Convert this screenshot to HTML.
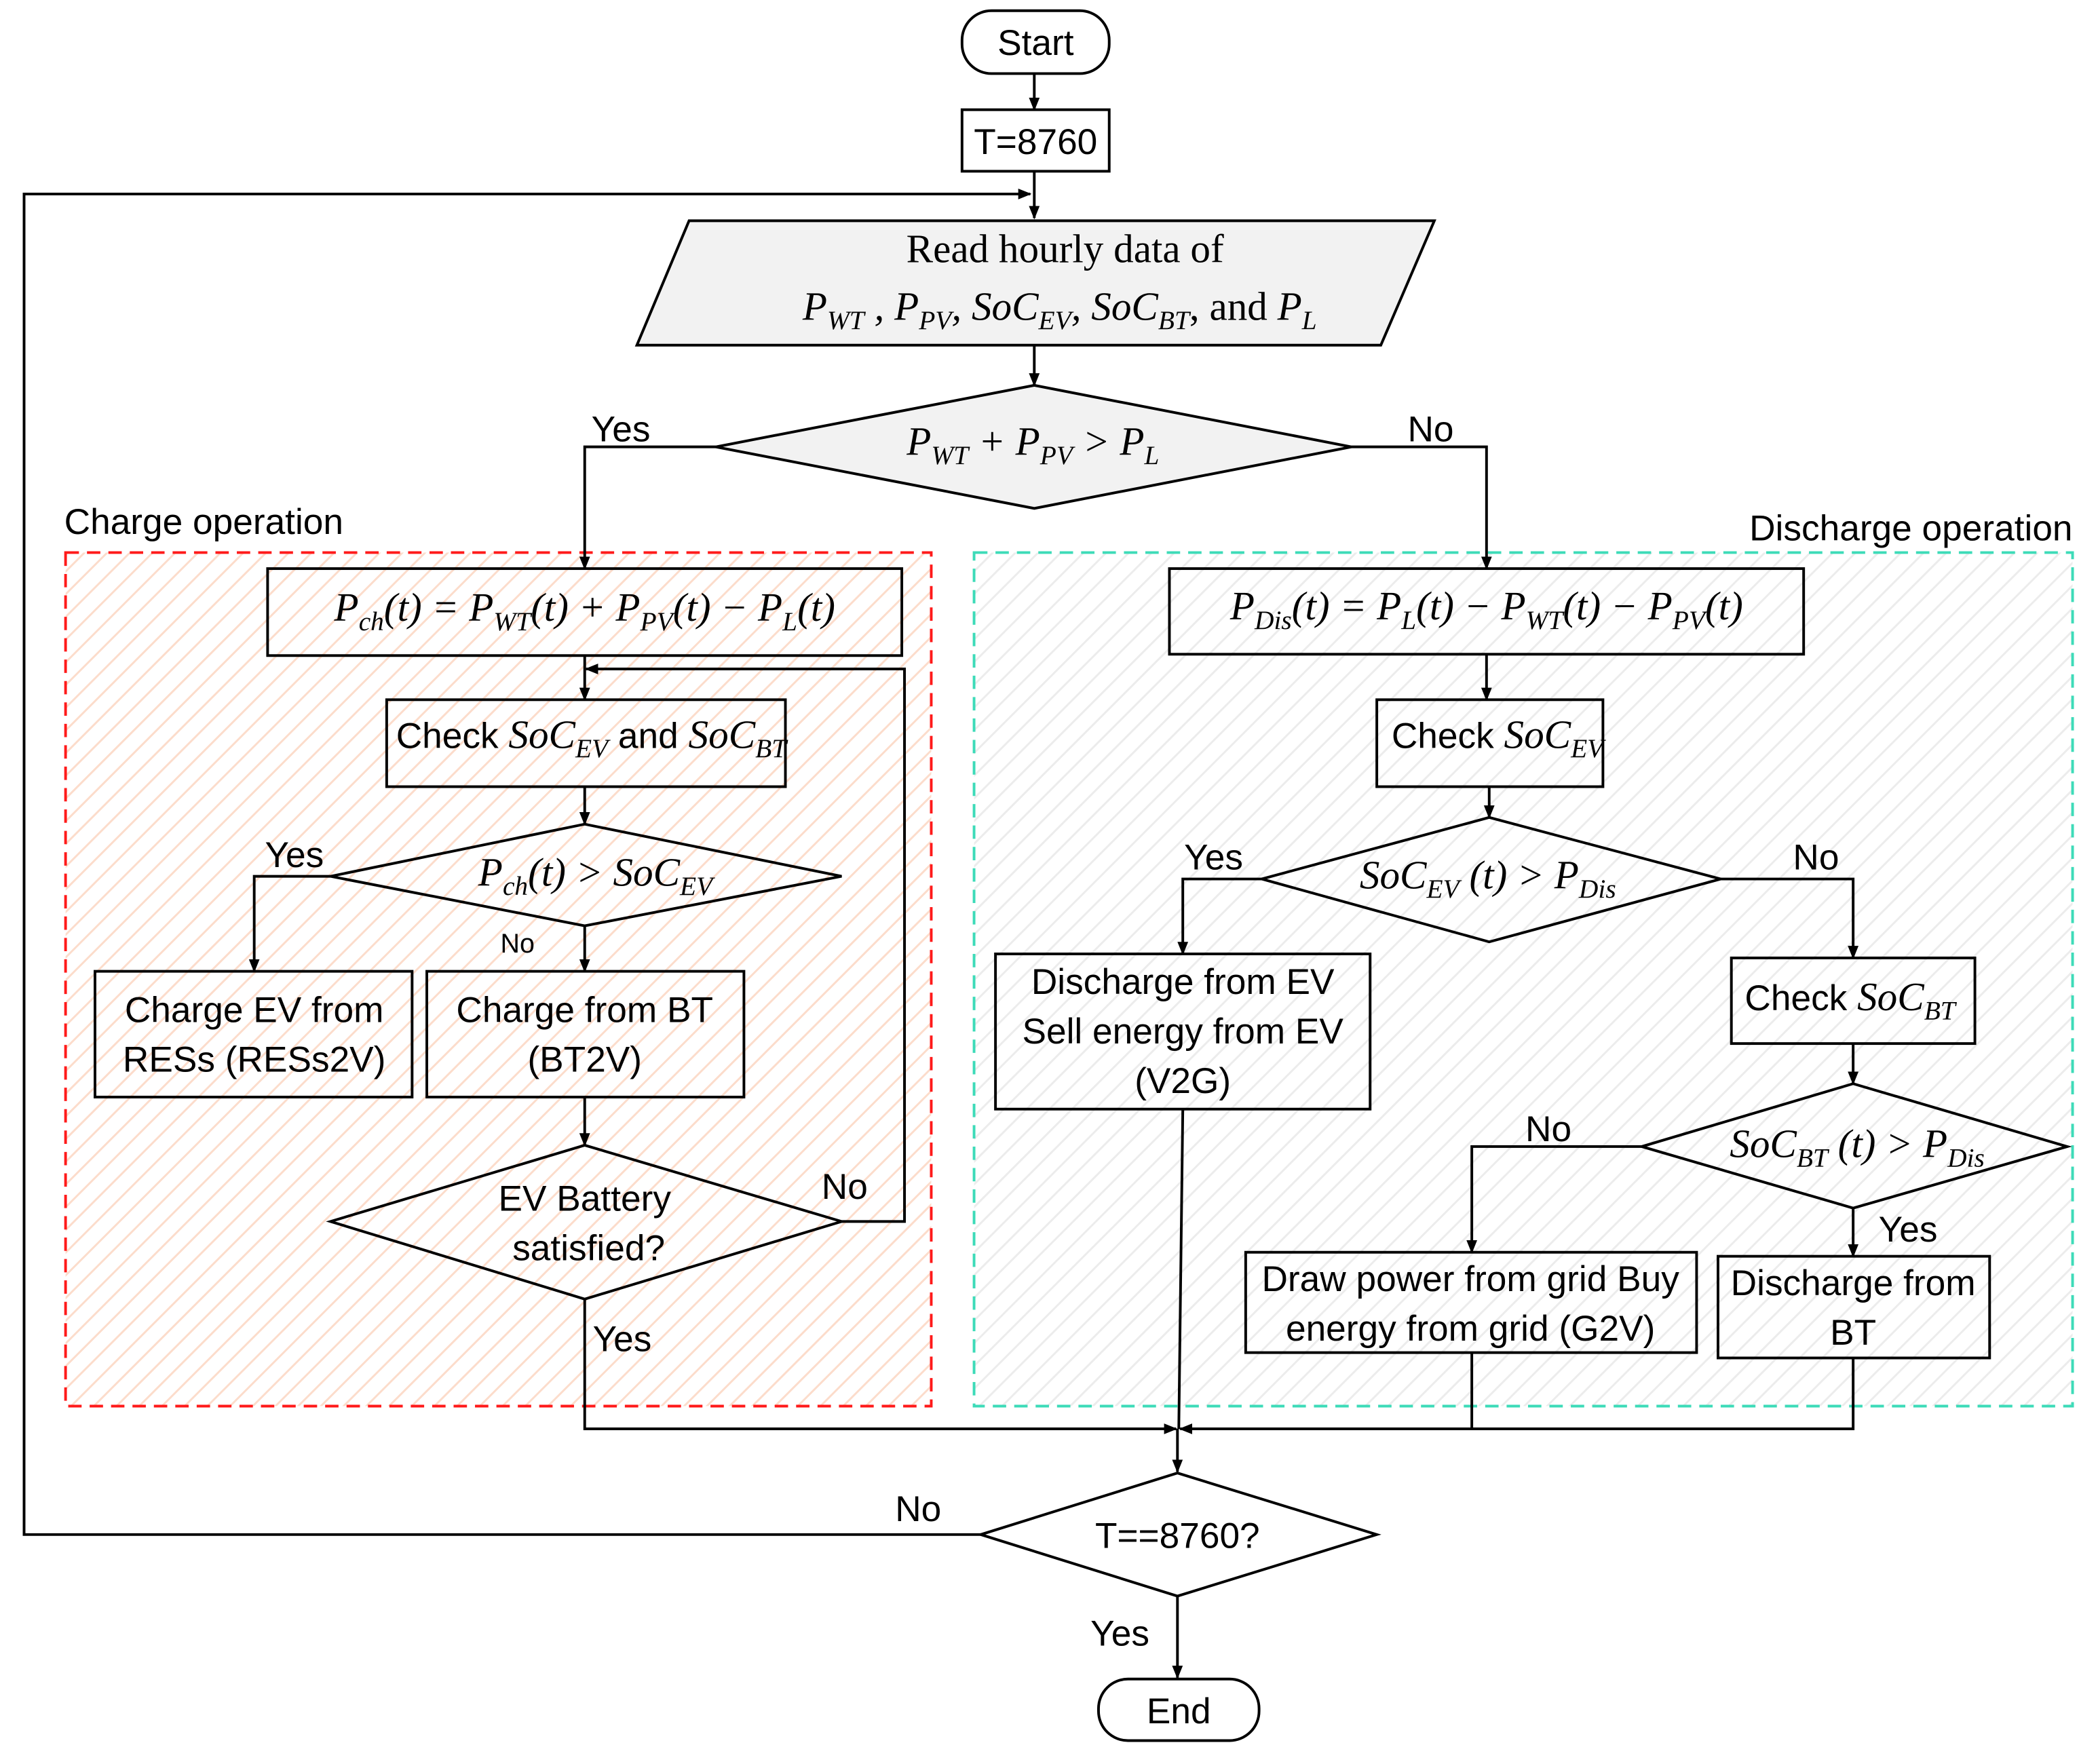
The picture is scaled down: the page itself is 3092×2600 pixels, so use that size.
<!DOCTYPE html>
<html><head><meta charset="utf-8"><style>
html,body{margin:0;padding:0;background:#fff;}
svg{display:block;}
.t{font-family:"Liberation Sans Narrow","Liberation Sans",sans-serif;font-size:27px;fill:#000;}
.m{font-family:"Liberation Serif",serif;font-style:italic;font-size:30px;fill:#000;}
.s{font-size:20px;}
</style></head><body>
<svg width="3092" height="2600" viewBox="0 0 1568 1318.5" preserveAspectRatio="none" xmlns="http://www.w3.org/2000/svg">
<defs>
<pattern id="ho" width="12" height="12" patternUnits="userSpaceOnUse" patternTransform="rotate(45)">
<line x1="0" y1="0" x2="0" y2="12" stroke="#fcdccb" stroke-width="3"/></pattern>
<pattern id="hg" width="12" height="12" patternUnits="userSpaceOnUse" patternTransform="rotate(45)">
<line x1="0" y1="0" x2="0" y2="12" stroke="#ececec" stroke-width="3"/></pattern>
<marker id="a" markerWidth="10" markerHeight="10" refX="9" refY="5" orient="auto" markerUnits="userSpaceOnUse"><path d="M0,1 L10,5 L0,9 z" fill="#000"/></marker>
</defs>
<rect x="49" y="413" width="647" height="638" fill="url(#ho)" stroke="#ff1a1a" stroke-width="2" stroke-dasharray="10,6"/>
<rect x="728" y="413" width="821" height="638" fill="url(#hg)" stroke="#3ddbb8" stroke-width="2" stroke-dasharray="10,6"/>
<text class="t" x="48" y="399">Charge operation</text>
<text class="t" x="1549" y="404" text-anchor="end">Discharge operation</text>
<g stroke="#000" stroke-width="2" fill="none">
<rect x="719" y="8" width="110" height="47" rx="22" fill="#fff"/>
<rect x="719" y="82" width="110" height="46" fill="#fff"/>
<polygon points="515,165 1072,165 1032,258 476,258" fill="#f2f2f2"/>
<polygon points="535,334 773,288 1010,334 773,380" fill="#f2f2f2"/>
<rect x="200" y="425" width="474" height="65"/>
<rect x="289" y="523" width="298" height="65"/>
<polygon points="247,655 437,616 629,655 437,692"/>
<rect x="71" y="726" width="237" height="94"/>
<rect x="319" y="726" width="237" height="94"/>
<polygon points="247,913 437,856 629,913 437,971"/>
<rect x="874" y="425" width="474" height="64"/>
<rect x="1029" y="523" width="169" height="65"/>
<polygon points="943,657 1113,611 1286,657 1113,704"/>
<rect x="744" y="713" width="280" height="116"/>
<rect x="1294" y="716" width="182" height="64"/>
<polygon points="1227,857 1385,810 1545,857 1385,903"/>
<rect x="931" y="936" width="337" height="75"/>
<rect x="1284" y="939" width="203" height="76"/>
<polygon points="733,1147 880,1101 1029,1147 880,1193" fill="#fff"/>
<rect x="821" y="1255" width="120" height="46" rx="22" fill="#fff"/>
<path d="M773,55 V82" marker-end="url(#a)"/>
<path d="M773,128 V163" marker-end="url(#a)"/>
<path d="M733,1147 H18 V145 H770" marker-end="url(#a)"/>
<path d="M773,258 V288" marker-end="url(#a)"/>
<path d="M535,334 H437 V425" marker-end="url(#a)"/>
<path d="M1010,334 H1111 V425" marker-end="url(#a)"/>
<path d="M437,490 V523" marker-end="url(#a)"/>
<path d="M629,913 H676 V500 H438" marker-end="url(#a)"/>
<path d="M437,588 V616" marker-end="url(#a)"/>
<path d="M247,655 H190 V726" marker-end="url(#a)"/>
<path d="M437,692 V726" marker-end="url(#a)"/>
<path d="M437,820 V856" marker-end="url(#a)"/>
<path d="M437,971 V1068 H879" marker-end="url(#a)"/>
<path d="M1111,489 V523" marker-end="url(#a)"/>
<path d="M1113,588 V611" marker-end="url(#a)"/>
<path d="M943,657 H884 V713" marker-end="url(#a)"/>
<path d="M1286,657 H1385 V716" marker-end="url(#a)"/>
<path d="M884,829 L881,1068"/>
<path d="M1385,780 V810" marker-end="url(#a)"/>
<path d="M1227,857 H1100 V936" marker-end="url(#a)"/>
<path d="M1385,903 V939" marker-end="url(#a)"/>
<path d="M1100,1011 V1068 H882" marker-end="url(#a)"/>
<path d="M1385,1015 V1068 H1100"/>
<path d="M880,1068 V1100" marker-end="url(#a)"/>
<path d="M880,1193 V1254" marker-end="url(#a)"/>
</g>
<g class="t" text-anchor="middle">
<text x="774" y="41">Start</text>
<text x="774" y="115">T=8760</text>
<text x="190" y="764">Charge EV from</text>
<text x="190" y="801">RESs (RESs2V)</text>
<text x="437" y="764">Charge from BT</text>
<text x="437" y="801">(BT2V)</text>
<text x="437" y="905">EV Battery</text>
<text x="440" y="942">satisfied?</text>
<text x="884" y="743">Discharge from EV</text>
<text x="884" y="780">Sell energy from EV</text>
<text x="884" y="817">(V2G)</text>
<text x="1099" y="965">Draw power from grid Buy</text>
<text x="1099" y="1002">energy from grid (G2V)</text>
<text x="1385" y="968">Discharge from</text>
<text x="1385" y="1005">BT</text>
<text x="880" y="1157">T==8760?</text>
<text x="881" y="1288">End</text>
</g>
<g class="t">
<text x="442" y="330">Yes</text><text x="1052" y="330">No</text>
<text x="198" y="648">Yes</text><text x="374" y="712" style="font-size:20px">No</text>
<text x="614" y="896">No</text><text x="443" y="1010">Yes</text>
<text x="885" y="650">Yes</text><text x="1340" y="650">No</text>
<text x="1140" y="853">No</text><text x="1404" y="928">Yes</text>
<text x="669" y="1137">No</text><text x="815" y="1230">Yes</text>
<text x="296" y="559">Check <tspan class="m">SoC<tspan class="s" dy="7">EV</tspan></tspan><tspan dy="-7"> and  </tspan><tspan class="m">SoC<tspan class="s" dy="7">BT</tspan></tspan></text>
<text x="1040" y="559">Check <tspan class="m">SoC<tspan class="s" dy="7">EV</tspan></tspan></text>
<text x="1304" y="755">Check <tspan class="m">SoC<tspan class="s" dy="7">BT</tspan></tspan></text>
</g>
<g class="m" text-anchor="middle">
<text x="796" y="196" style="font-style:normal">Read hourly data of</text>
<text x="792" y="239">P<tspan class="s" dy="7">WT</tspan><tspan dy="-7"> , P</tspan><tspan class="s" dy="7">PV</tspan><tspan dy="-7">, SoC</tspan><tspan class="s" dy="7">EV</tspan><tspan dy="-7">, SoC</tspan><tspan class="s" dy="7">BT</tspan><tspan dy="-7" style="font-style:normal">, and </tspan><tspan dy="0">P</tspan><tspan class="s" dy="7">L</tspan></text>
<text x="772" y="340">P<tspan class="s" dy="7">WT</tspan><tspan dy="-7">  + P</tspan><tspan class="s" dy="7">PV</tspan><tspan dy="-7"> &gt; P</tspan><tspan class="s" dy="7">L</tspan></text>
<text x="437" y="464">P<tspan class="s" dy="7">ch</tspan><tspan dy="-7">(t) = P</tspan><tspan class="s" dy="7">WT</tspan><tspan dy="-7">(t) + P</tspan><tspan class="s" dy="7">PV</tspan><tspan dy="-7">(t) − P</tspan><tspan class="s" dy="7">L</tspan><tspan dy="-7">(t)</tspan></text>
<text x="445" y="662">P<tspan class="s" dy="7">ch</tspan><tspan dy="-7">(t) &gt; SoC</tspan><tspan class="s" dy="7">EV</tspan></text>
<text x="1111" y="463">P<tspan class="s" dy="7">Dis</tspan><tspan dy="-7">(t) = P</tspan><tspan class="s" dy="7">L</tspan><tspan dy="-7">(t) − P</tspan><tspan class="s" dy="7">WT</tspan><tspan dy="-7">(t) − P</tspan><tspan class="s" dy="7">PV</tspan><tspan dy="-7">(t)</tspan></text>
<text x="1112" y="664">SoC<tspan class="s" dy="7">EV</tspan><tspan dy="-7"> (t) &gt; P</tspan><tspan class="s" dy="7">Dis</tspan></text>
<text x="1388" y="865">SoC<tspan class="s" dy="7">BT</tspan><tspan dy="-7"> (t) &gt; P</tspan><tspan class="s" dy="7">Dis</tspan></text>
</g>
</svg>
</body></html>
